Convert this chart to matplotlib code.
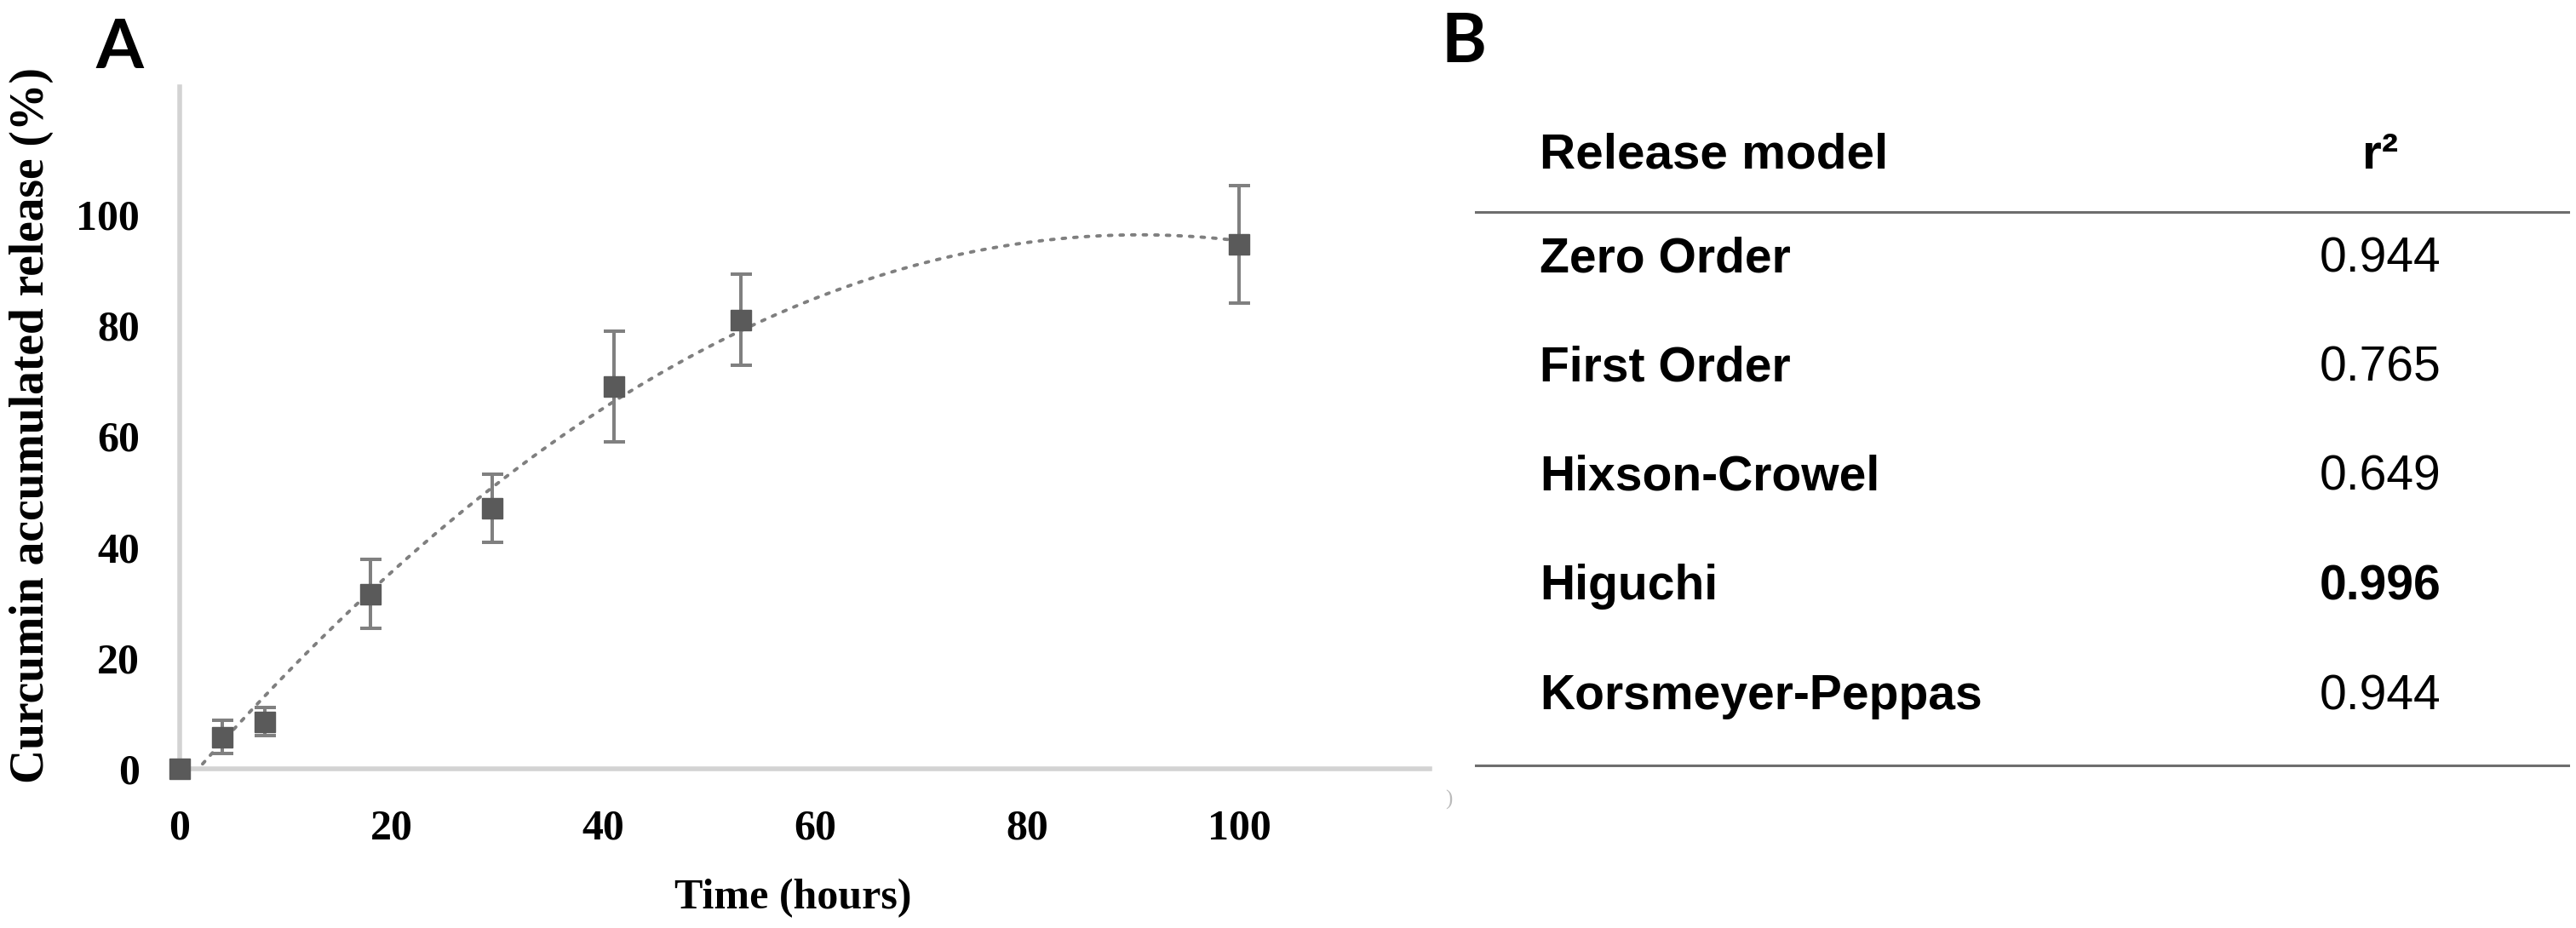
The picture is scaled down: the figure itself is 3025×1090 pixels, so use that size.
import numpy as np
import matplotlib.pyplot as plt

# release data
time_h = [0, 4, 8, 18, 29.5, 41, 53, 100]
release = [0, 5.7, 8.5, 31.5, 47, 69, 81, 94.6]
release_sd = [0, 3.0, 2.5, 6.2, 6.2, 10.0, 8.2, 10.6]

# table data
models = ['Zero Order', 'First Order', 'Hixson-Crowel', 'Higuchi', 'Korsmeyer-Peppas']
r2 = [0.944, 0.765, 0.649, 0.996, 0.944]
best = 'Higuchi'

W, H = 3025, 1090
fig = plt.figure(figsize=(W / 100, H / 100), dpi=100)

# ---- panel A ----
x0, x1, ytop, ybot = 211, 1679, 102, 903
ax = fig.add_axes([x0 / W, 1 - ybot / H, (x1 - x0) / W, (ybot - ytop) / H])

# polynomial (order 2) trend line, as in the spreadsheet chart
coef = np.polyfit(time_h, release, 2)
xs = np.linspace(0, 100, 300)
ax.plot(xs, np.polyval(coef, xs), color='#7f7f7f', lw=2.8,
        linestyle=(0, (1, 2.5)), dash_capstyle='round', zorder=2)

ax.errorbar(time_h, release, yerr=release_sd, fmt='s', ms=17,
            mfc='#5a5a5a', mec='#5a5a5a', ecolor='#808080',
            elinewidth=2.9, capsize=9, capthick=2.9, zorder=3, clip_on=False)

ax.set_xlim(0, 118)
ax.set_ylim(0, 123)
ax.set_xticks([0, 20, 40, 60, 80, 100])
ax.set_yticks([0, 20, 40, 60, 80, 100])
for s in ['top', 'right']:
    ax.spines[s].set_visible(False)
for s in ['left', 'bottom']:
    ax.spines[s].set_color('#d3d3d3')
    ax.spines[s].set_linewidth(4)
ax.tick_params(length=0, pad=34)
for lab in ax.get_xticklabels() + ax.get_yticklabels():
    lab.set_fontfamily('Liberation Serif')
    lab.set_fontweight('bold')
    lab.set_fontsize(36)

fig.text(37 / W, 1 - 500 / H, 'Curcumin accumulated release (%)', rotation=90,
         ha='center', va='center', family='Liberation Serif', weight='bold', fontsize=40)
fig.text(931 / W, 1 - 1055 / H, 'Time (hours)', ha='center', va='center',
         family='Liberation Serif', weight='bold', fontsize=36)
fig.text(140 / W, 1 - 57 / H, 'A', ha='center', va='center',
         family='Lato', weight='bold', fontsize=58)
fig.text(1701 / W, 1 - 939 / H, ')', ha='center', va='center',
         family='Liberation Serif', fontsize=18, color='#bbbbbb')

# ---- panel B: table ----
tb = fig.add_axes([0, 0, 1, 1])
tb.set_xlim(0, W)
tb.set_ylim(H, 0)
tb.axis('off')
tb.text(1719, 50, 'B', ha='center', va='center', family='Lato', weight='bold', fontsize=58)

name_x, val_x = 1808, 2795
tb.text(name_x, 183, 'Release model', ha='left', va='center',
        family='Liberation Sans', weight='bold', fontsize=42)
tb.text(val_x, 183, 'r²', ha='center', va='center',
        family='Liberation Sans', weight='bold', fontsize=42)
tb.plot([1733, 3016], [249, 249], color='#6e6e6e', lw=2.2)
tb.plot([1733, 3016], [899, 899], color='#6e6e6e', lw=2.2)

for i, (m, v) in enumerate(zip(models, r2)):
    y = 304 + i * 128.5
    tb.text(name_x, y, m, ha='left', va='center', family='Liberation Sans',
            weight='bold', fontsize=41)
    tb.text(val_x, y, f'{v:.3f}', ha='center', va='center', family='Liberation Sans',
            weight='bold' if m == best else 'normal', fontsize=41)

fig.savefig('out.png', dpi=100)
